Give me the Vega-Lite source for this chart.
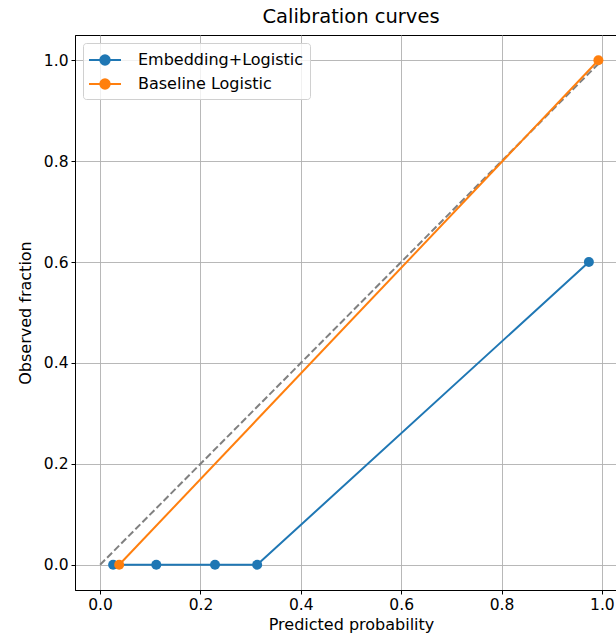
{
  "$schema": "https://vega.github.io/schema/vega-lite/v6.json",
  "autosize": {"type": "none"},
  "padding": {"left": 75, "top": 35, "right": 0, "bottom": 53},
  "width": 552,
  "height": 555,
  "title": {"text": "Calibration curves", "fontSize": 19.5, "font": "DejaVu Sans", "fontWeight": "normal", "color": "black", "offset": 8, "anchor": "middle"},
  "config": {
    "font": "DejaVu Sans",
    "view": {"stroke": "black", "strokeWidth": 1},
    "axis": {
      "labelFont": "DejaVu Sans", "labelFontSize": 15.5, "labelColor": "black",
      "titleFont": "DejaVu Sans", "titleFontSize": 16, "titleFontWeight": "normal", "titleColor": "black",
      "grid": true, "gridColor": "#b0b0b0", "gridWidth": 0.9,
      "domainColor": "black", "tickColor": "black", "tickSize": 4, "labelPadding": 3
    }
  },
  "datasets": {
    "curves": [
      {"model": "Embedding+Logistic", "pred": 0.026, "obs": 0.0, "ord": 1},
      {"model": "Embedding+Logistic", "pred": 0.112, "obs": 0.0, "ord": 2},
      {"model": "Embedding+Logistic", "pred": 0.229, "obs": 0.0, "ord": 3},
      {"model": "Embedding+Logistic", "pred": 0.313, "obs": 0.0, "ord": 4},
      {"model": "Embedding+Logistic", "pred": 0.974, "obs": 0.6, "ord": 5},
      {"model": "Baseline Logistic", "pred": 0.038, "obs": 0.0, "ord": 1},
      {"model": "Baseline Logistic", "pred": 0.993, "obs": 1.0, "ord": 2}
    ],
    "diag": [
      {"pred": 0.0, "obs": 0.0},
      {"pred": 1.0, "obs": 1.0}
    ]
  },
  "layer": [
    {
      "data": {"name": "diag"},
      "mark": {"type": "line", "color": "gray", "strokeDash": [7, 3], "strokeWidth": 2},
      "encoding": {
        "x": {"field": "pred", "type": "quantitative"},
        "y": {"field": "obs", "type": "quantitative"}
      }
    },
    {
      "data": {"name": "curves"},
      "mark": {"type": "line", "strokeWidth": 2, "point": {"filled": true, "size": 100, "opacity": 1}},
      "encoding": {
        "x": {"field": "pred", "type": "quantitative", "title": "Predicted probability",
          "scale": {"domain": [-0.05, 1.05], "nice": false, "zero": false},
          "axis": {"values": [0, 0.2, 0.4, 0.6, 0.8, 1.0], "format": ".1f", "titlePadding": 4}},
        "y": {"field": "obs", "type": "quantitative", "title": "Observed fraction",
          "scale": {"domain": [-0.05, 1.05], "nice": false, "zero": false},
          "axis": {"values": [0, 0.2, 0.4, 0.6, 0.8, 1.0], "format": ".1f", "titlePadding": 10}},
        "order": {"field": "ord"},
        "color": {"field": "model", "type": "nominal",
          "scale": {"domain": ["Embedding+Logistic", "Baseline Logistic"], "range": ["#1f77b4", "#ff7f0e"]},
          "legend": {
            "title": null, "orient": "top-left", "offset": 8,
            "labelFont": "DejaVu Sans", "labelFontSize": 16, "labelColor": "black", "labelLimit": 400,
            "symbolType": "M-1.6,0L1.6,0M-0.47,0A0.47,0.47 0 1,1 0.47,0A0.47,0.47 0 1,1 -0.47,0",
            "symbolSize": 400, "symbolStrokeWidth": 2, "rowPadding": 4, "symbolOffset": 5,
            "strokeColor": "#d0d0d0", "fillColor": "rgba(255,255,255,0.8)", "cornerRadius": 3, "padding": 6,
            "labelOffset": 22,
            "encode": {"symbols": {"update": {"fill": {"scale": "color", "field": "value"}, "fillOpacity": {"value": 1}}}}
          }}
      }
    }
  ]
}
